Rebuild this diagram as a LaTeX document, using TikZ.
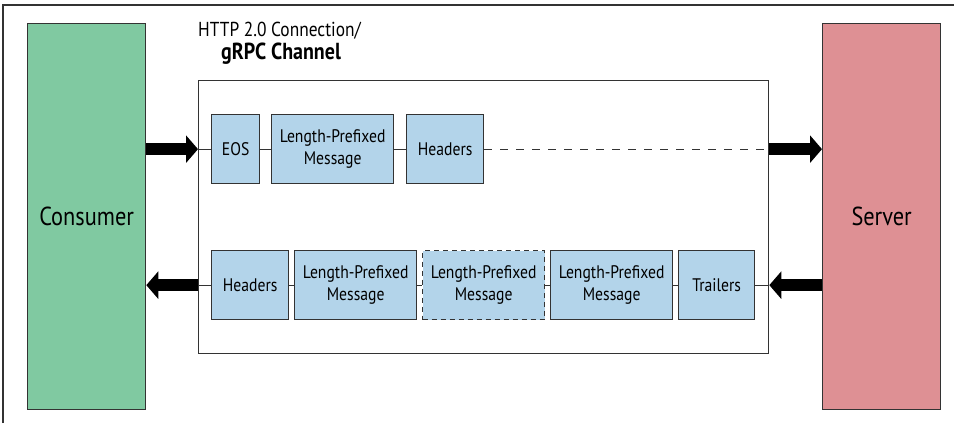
\documentclass[tikz,border=0pt]{standalone}
\usepackage{fontspec}
\setmainfont[FakeStretch=0.86]{PT Sans}
\usetikzlibrary{arrows.meta}
\definecolor{consgreen}{HTML}{80C9A1}
\definecolor{servred}{HTML}{DE9094}
\definecolor{msgblue}{HTML}{B3D4EA}
\definecolor{edgegray}{HTML}{333333}
\tikzset{
  party/.style={draw=edgegray, line width=1.3pt, anchor=north west, inner sep=0pt,
    font=\fontsize{26}{28}\selectfont},
  msg/.style={draw=edgegray, fill=msgblue, line width=1.3pt, anchor=north west, inner sep=0pt,
    align=center, font=\fontsize{18.2}{22}\selectfont, minimum height=69pt},
  optmsg/.style={msg, dash pattern=on 5pt off 4pt},
  conn/.style={draw=edgegray, line width=1.1pt},
  dashconn/.style={conn, dash pattern=on 8pt off 8pt},
  bigarrow/.style={line width=12pt, -{Triangle[length=12pt,width=27pt]}, black},
}
\begin{document}
\begin{tikzpicture}[x=1pt,y=-1pt]
\useasboundingbox (0,0) rectangle (957,423);
% outer frame (left and top edges visible)
\draw[edgegray, line width=1.1pt] (3,423) -- (3,5) -- (954,5);
% parties
\node[party, fill=consgreen, minimum width=118pt, minimum height=386pt] (consumer) at (27,23) {Consumer};
\node[party, fill=servred, minimum width=118pt, minimum height=386pt] (server) at (822,23) {Server};
% channel
\node[draw=edgegray, line width=1.3pt, anchor=north west, inner sep=0pt, minimum width=570pt, minimum height=273pt] (channel) at (198,80) {};
\node[anchor=west, inner sep=0pt, font=\fontsize{20.2}{22}\selectfont] (t1) at (198,31) {HTTP 2.0 Connection/};
\node[inner sep=0pt, font=\fontsize{23.2}{25}\selectfont\bfseries] (t2) at (281,54) {gRPC Channel};
% top row (request)
\node[msg, minimum width=48pt] (eos) at (211,114) {EOS};
\node[msg, minimum width=122pt] (lpm0) at (271,114) {Length-Prefixed\\Message};
\node[msg, minimum width=77pt] (hdr1) at (406,114) {Headers};
% bottom row (response)
\node[msg, minimum width=77pt] (hdr2) at (211,250) {Headers};
\node[msg, minimum width=122pt] (lpm1) at (294,250) {Length-Prefixed\\Message};
\node[optmsg, minimum width=122pt] (lpm2) at (422,250) {Length-Prefixed\\Message};
\node[msg, minimum width=122pt] (lpm3) at (550,250) {Length-Prefixed\\Message};
\node[msg, minimum width=76pt] (trl) at (678,250) {Trailers};
% connectors top
\draw[conn] (eos -| channel.west) -- (eos.west);
\draw[conn] (eos.east) -- (lpm0.west);
\draw[conn] (lpm0.east) -- (hdr1.west);
\draw[dashconn] (hdr1.east) -- (hdr1 -| channel.east);
% connectors bottom
\draw[conn] (hdr2 -| channel.west) -- (hdr2.west);
\draw[conn] (hdr2.east) -- (lpm1.west);
\draw[conn] (lpm1.east) -- (lpm2.west);
\draw[conn] (lpm2.east) -- (lpm3.west);
\draw[conn] (lpm3.east) -- (trl.west);
\draw[conn] (trl.east) -- (trl -| channel.east);
% big arrows
\draw[bigarrow] (eos -| consumer.east) -- (eos -| channel.west);
\draw[bigarrow] (hdr1 -| channel.east) -- (hdr1 -| server.west);
\draw[bigarrow] (trl -| server.west) -- (trl -| channel.east);
\draw[bigarrow] (hdr2 -| channel.west) -- (hdr2 -| consumer.east);
\end{tikzpicture}
\end{document}
